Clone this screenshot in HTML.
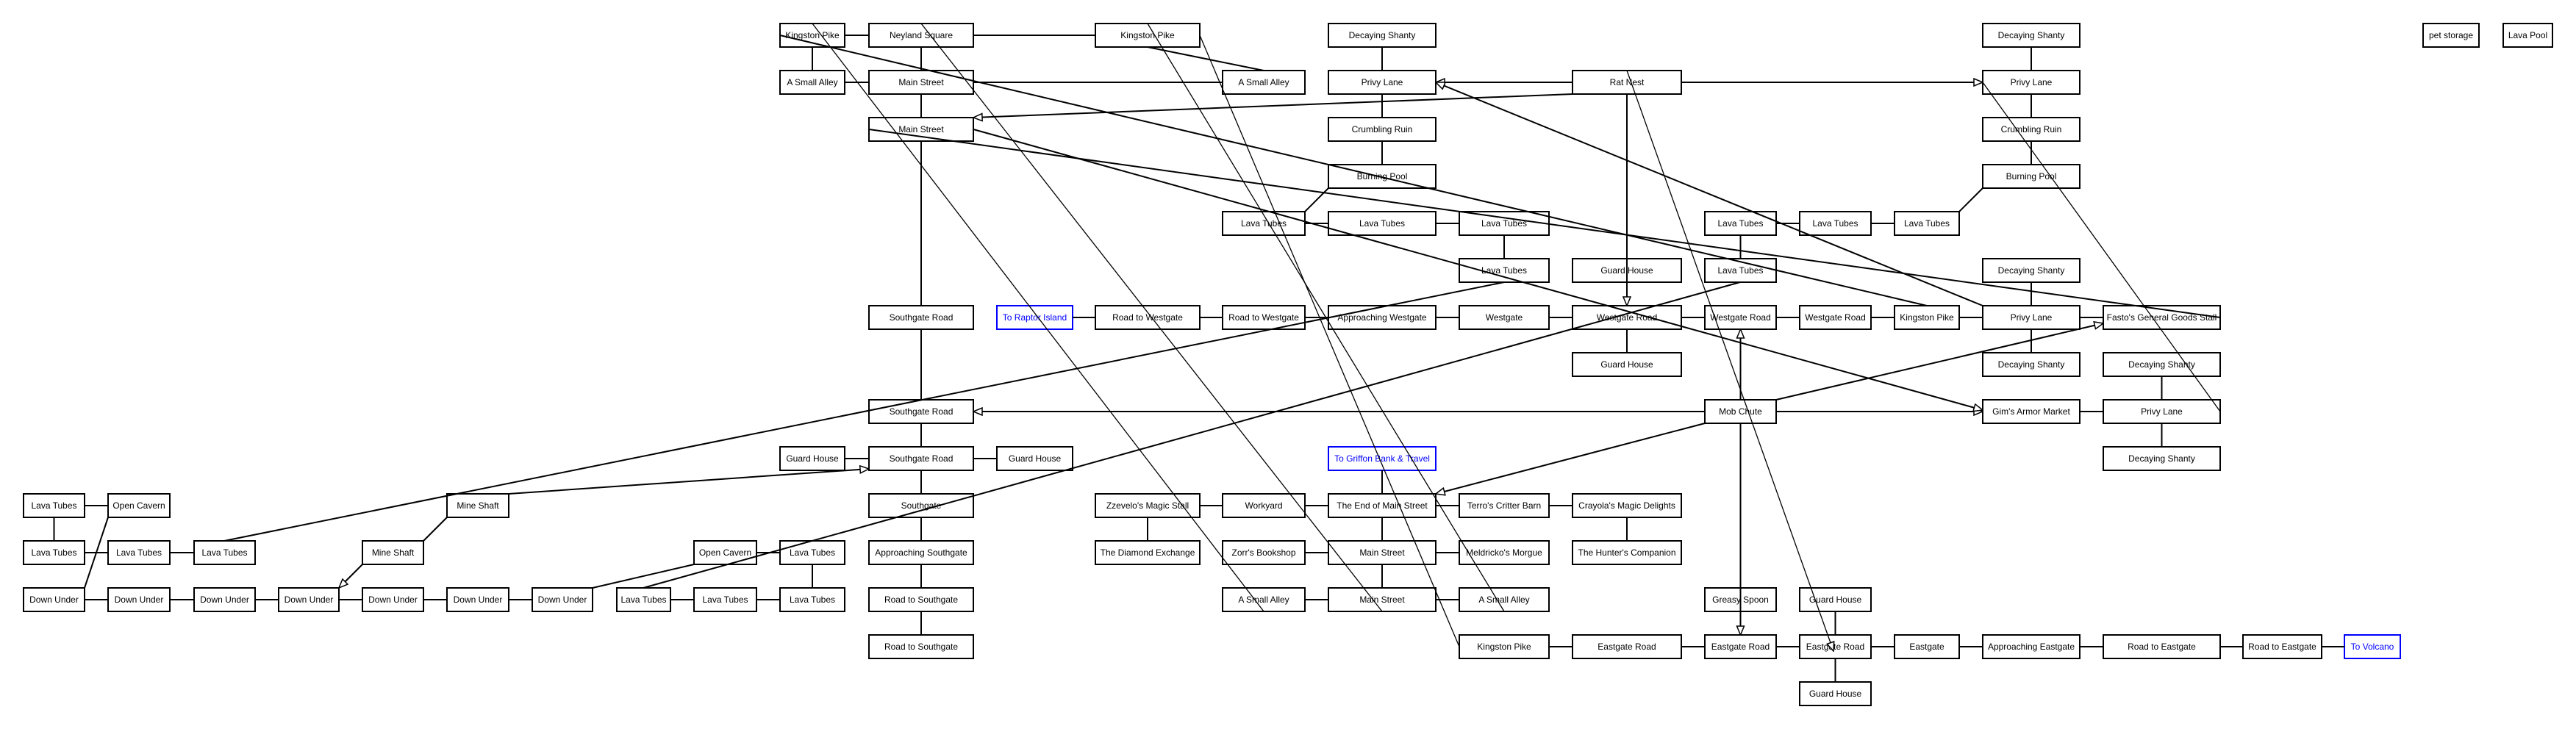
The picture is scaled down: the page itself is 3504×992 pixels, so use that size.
<!DOCTYPE html>
<html><head><meta charset="utf-8"><style>
html,body{margin:0;padding:0;background:#fff;}
svg{display:block;}
text{font-family:"Liberation Sans",sans-serif;font-size:12px;text-anchor:middle;fill:#000;}
rect{fill:#fff;stroke:#000;stroke-width:2;}
.b rect{stroke:#00f;} .b text{fill:#00f;}
line{stroke:#000;stroke-width:2;}
.t{stroke-width:1.3;}
</style></head><body>
<svg width="3504" height="992" viewBox="0 0 3504 992" xmlns="http://www.w3.org/2000/svg">
<defs><marker id="a" markerUnits="userSpaceOnUse" markerWidth="14" markerHeight="12" refX="13" refY="6" orient="auto"><path d="M1,1 L13,6 L1,11 z" fill="#fff" stroke="#000" stroke-width="1.5"/></marker></defs>
<g>
<!-- row0 -->
<rect x="1061" y="32" width="88" height="32"/><text x="1105" y="52">Kingston Pike</text>
<rect x="1182" y="32" width="142" height="32"/><text x="1253" y="52">Neyland Square</text>
<rect x="1490" y="32" width="142" height="32"/><text x="1561" y="52">Kingston Pike</text>
<rect x="1807" y="32" width="146" height="32"/><text x="1880" y="52">Decaying Shanty</text>
<rect x="2697" y="32" width="132" height="32"/><text x="2763" y="52">Decaying Shanty</text>
<rect x="3296" y="32" width="76" height="32"/><text x="3334" y="52">pet storage</text>
<rect x="3405" y="32" width="67" height="32"/><text x="3438.5" y="52">Lava Pool</text>
<!-- row1 -->
<rect x="1061" y="96" width="88" height="32"/><text x="1105" y="116">A Small Alley</text>
<rect x="1182" y="96" width="142" height="32"/><text x="1253" y="116">Main Street</text>
<rect x="1663" y="96" width="112" height="32"/><text x="1719" y="116">A Small Alley</text>
<rect x="1807" y="96" width="146" height="32"/><text x="1880" y="116">Privy Lane</text>
<rect x="2139" y="96" width="148" height="32"/><text x="2213" y="116">Rat Nest</text>
<rect x="2697" y="96" width="132" height="32"/><text x="2763" y="116">Privy Lane</text>
<!-- row2 -->
<rect x="1182" y="160" width="142" height="32"/><text x="1253" y="180">Main Street</text>
<rect x="1807" y="160" width="146" height="32"/><text x="1880" y="180">Crumbling Ruin</text>
<rect x="2697" y="160" width="132" height="32"/><text x="2763" y="180">Crumbling Ruin</text>
<!-- row3 -->
<rect x="1807" y="224" width="146" height="32"/><text x="1880" y="244">Burning Pool</text>
<rect x="2697" y="224" width="132" height="32"/><text x="2763" y="244">Burning Pool</text>
<!-- row4 -->
<rect x="1663" y="288" width="112" height="32"/><text x="1719" y="308">Lava Tubes</text>
<rect x="1807" y="288" width="146" height="32"/><text x="1880" y="308">Lava Tubes</text>
<rect x="1985" y="288" width="122" height="32"/><text x="2046" y="308">Lava Tubes</text>
<rect x="2319" y="288" width="97" height="32"/><text x="2367.5" y="308">Lava Tubes</text>
<rect x="2448" y="288" width="97" height="32"/><text x="2496.5" y="308">Lava Tubes</text>
<rect x="2577" y="288" width="88" height="32"/><text x="2621" y="308">Lava Tubes</text>
<!-- row5 -->
<rect x="1985" y="352" width="122" height="32"/><text x="2046" y="372">Lava Tubes</text>
<rect x="2139" y="352" width="148" height="32"/><text x="2213" y="372">Guard House</text>
<rect x="2319" y="352" width="97" height="32"/><text x="2367.5" y="372">Lava Tubes</text>
<rect x="2697" y="352" width="132" height="32"/><text x="2763" y="372">Decaying Shanty</text>
<!-- row6 -->
<rect x="1182" y="416" width="142" height="32"/><text x="1253" y="436">Southgate Road</text>
<g class="b"><rect x="1356" y="416" width="103" height="32"/><text x="1407.5" y="436">To Raptor Island</text></g>
<rect x="1490" y="416" width="142" height="32"/><text x="1561" y="436">Road to Westgate</text>
<rect x="1663" y="416" width="112" height="32"/><text x="1719" y="436">Road to Westgate</text>
<rect x="1807" y="416" width="146" height="32"/><text x="1880" y="436">Approaching Westgate</text>
<rect x="1985" y="416" width="122" height="32"/><text x="2046" y="436">Westgate</text>
<rect x="2139" y="416" width="148" height="32"/><text x="2213" y="436">Westgate Road</text>
<rect x="2319" y="416" width="97" height="32"/><text x="2367.5" y="436">Westgate Road</text>
<rect x="2448" y="416" width="97" height="32"/><text x="2496.5" y="436">Westgate Road</text>
<rect x="2577" y="416" width="88" height="32"/><text x="2621" y="436">Kingston Pike</text>
<rect x="2697" y="416" width="132" height="32"/><text x="2763" y="436">Privy Lane</text>
<rect x="2861" y="416" width="159" height="32"/><text x="2940.5" y="436">Fasto's General Goods Stall</text>
<!-- row7 -->
<rect x="2139" y="480" width="148" height="32"/><text x="2213" y="500">Guard House</text>
<rect x="2697" y="480" width="132" height="32"/><text x="2763" y="500">Decaying Shanty</text>
<rect x="2861" y="480" width="159" height="32"/><text x="2940.5" y="500">Decaying Shanty</text>
<!-- row8 -->
<rect x="1182" y="544" width="142" height="32"/><text x="1253" y="564">Southgate Road</text>
<rect x="2319" y="544" width="97" height="32"/><text x="2367.5" y="564">Mob Chute</text>
<rect x="2697" y="544" width="132" height="32"/><text x="2763" y="564">Gim's Armor Market</text>
<rect x="2861" y="544" width="159" height="32"/><text x="2940.5" y="564">Privy Lane</text>
<!-- row9 -->
<rect x="1061" y="608" width="88" height="32"/><text x="1105" y="628">Guard House</text>
<rect x="1182" y="608" width="142" height="32"/><text x="1253" y="628">Southgate Road</text>
<rect x="1356" y="608" width="103" height="32"/><text x="1407.5" y="628">Guard House</text>
<g class="b"><rect x="1807" y="608" width="146" height="32"/><text x="1880" y="628">To Griffon Bank &amp; Travel</text></g>
<rect x="2861" y="608" width="159" height="32"/><text x="2940.5" y="628">Decaying Shanty</text>
<!-- row10 -->
<rect x="32" y="672" width="83" height="32"/><text x="73.5" y="692">Lava Tubes</text>
<rect x="147" y="672" width="84" height="32"/><text x="189" y="692">Open Cavern</text>
<rect x="608" y="672" width="84" height="32"/><text x="650" y="692">Mine Shaft</text>
<rect x="1182" y="672" width="142" height="32"/><text x="1253" y="692">Southgate</text>
<rect x="1490" y="672" width="142" height="32"/><text x="1561" y="692">Zzevelo's Magic Stall</text>
<rect x="1663" y="672" width="112" height="32"/><text x="1719" y="692">Workyard</text>
<rect x="1807" y="672" width="146" height="32"/><text x="1880" y="692">The End of Main Street</text>
<rect x="1985" y="672" width="122" height="32"/><text x="2046" y="692">Terro's Critter Barn</text>
<rect x="2139" y="672" width="148" height="32"/><text x="2213" y="692">Crayola's Magic Delights</text>
<!-- row11 -->
<rect x="32" y="736" width="83" height="32"/><text x="73.5" y="756">Lava Tubes</text>
<rect x="147" y="736" width="84" height="32"/><text x="189" y="756">Lava Tubes</text>
<rect x="264" y="736" width="83" height="32"/><text x="305.5" y="756">Lava Tubes</text>
<rect x="493" y="736" width="83" height="32"/><text x="534.5" y="756">Mine Shaft</text>
<rect x="944" y="736" width="85" height="32"/><text x="986.5" y="756">Open Cavern</text>
<rect x="1061" y="736" width="88" height="32"/><text x="1105" y="756">Lava Tubes</text>
<rect x="1182" y="736" width="142" height="32"/><text x="1253" y="756">Approaching Southgate</text>
<rect x="1490" y="736" width="142" height="32"/><text x="1561" y="756">The Diamond Exchange</text>
<rect x="1663" y="736" width="112" height="32"/><text x="1719" y="756">Zorr's Bookshop</text>
<rect x="1807" y="736" width="146" height="32"/><text x="1880" y="756">Main Street</text>
<rect x="1985" y="736" width="122" height="32"/><text x="2046" y="756">Meldricko's Morgue</text>
<rect x="2139" y="736" width="148" height="32"/><text x="2213" y="756">The Hunter's Companion</text>
<!-- row12 -->
<rect x="32" y="800" width="83" height="32"/><text x="73.5" y="820">Down Under</text>
<rect x="147" y="800" width="84" height="32"/><text x="189" y="820">Down Under</text>
<rect x="264" y="800" width="83" height="32"/><text x="305.5" y="820">Down Under</text>
<rect x="379" y="800" width="82" height="32"/><text x="420" y="820">Down Under</text>
<rect x="493" y="800" width="83" height="32"/><text x="534.5" y="820">Down Under</text>
<rect x="608" y="800" width="84" height="32"/><text x="650" y="820">Down Under</text>
<rect x="724" y="800" width="82" height="32"/><text x="765" y="820">Down Under</text>
<rect x="839" y="800" width="73" height="32"/><text x="875.5" y="820">Lava Tubes</text>
<rect x="944" y="800" width="85" height="32"/><text x="986.5" y="820">Lava Tubes</text>
<rect x="1061" y="800" width="88" height="32"/><text x="1105" y="820">Lava Tubes</text>
<rect x="1182" y="800" width="142" height="32"/><text x="1253" y="820">Road to Southgate</text>
<rect x="1663" y="800" width="112" height="32"/><text x="1719" y="820">A Small Alley</text>
<rect x="1807" y="800" width="146" height="32"/><text x="1880" y="820">Main Street</text>
<rect x="1985" y="800" width="122" height="32"/><text x="2046" y="820">A Small Alley</text>
<rect x="2319" y="800" width="97" height="32"/><text x="2367.5" y="820">Greasy Spoon</text>
<rect x="2448" y="800" width="97" height="32"/><text x="2496.5" y="820">Guard House</text>
<!-- row13 -->
<rect x="1182" y="864" width="142" height="32"/><text x="1253" y="884">Road to Southgate</text>
<rect x="1985" y="864" width="122" height="32"/><text x="2046" y="884">Kingston Pike</text>
<rect x="2139" y="864" width="148" height="32"/><text x="2213" y="884">Eastgate Road</text>
<rect x="2319" y="864" width="97" height="32"/><text x="2367.5" y="884">Eastgate Road</text>
<rect x="2448" y="864" width="97" height="32"/><text x="2496.5" y="884">Eastgate Road</text>
<rect x="2577" y="864" width="88" height="32"/><text x="2621" y="884">Eastgate</text>
<rect x="2697" y="864" width="132" height="32"/><text x="2763" y="884">Approaching Eastgate</text>
<rect x="2861" y="864" width="159" height="32"/><text x="2940.5" y="884">Road to Eastgate</text>
<rect x="3051" y="864" width="107" height="32"/><text x="3104.5" y="884">Road to Eastgate</text>
<g class="b"><rect x="3189" y="864" width="76" height="32"/><text x="3227" y="884">To Volcano</text></g>
<!-- row14 -->
<rect x="2448" y="928" width="97" height="32"/><text x="2496.5" y="948">Guard House</text>
</g>
<g>
<!-- horizontal -->
<line x1="1149" y1="48" x2="1182" y2="48"/><line x1="1324" y1="48" x2="1490" y2="48"/>
<line x1="1149" y1="112" x2="1182" y2="112"/><line x1="1324" y1="112" x2="1663" y2="112"/>
<line x1="2139" y1="112" x2="1953" y2="112" marker-end="url(#a)"/>
<line x1="2287" y1="112" x2="2697" y2="112" marker-end="url(#a)"/>
<line x1="1775" y1="304" x2="1807" y2="304"/><line x1="1953" y1="304" x2="1985" y2="304"/>
<line x1="2416" y1="304" x2="2448" y2="304"/><line x1="2545" y1="304" x2="2577" y2="304"/>
<line x1="1459" y1="432" x2="1490" y2="432"/><line x1="1632" y1="432" x2="1663" y2="432"/>
<line x1="1775" y1="432" x2="1807" y2="432"/><line x1="1953" y1="432" x2="1985" y2="432"/>
<line x1="2107" y1="432" x2="2139" y2="432"/><line x1="2287" y1="432" x2="2319" y2="432"/>
<line x1="2416" y1="432" x2="2448" y2="432"/><line x1="2545" y1="432" x2="2577" y2="432"/>
<line x1="2665" y1="432" x2="2697" y2="432"/><line x1="2829" y1="432" x2="2861" y2="432"/>
<line x1="2319" y1="560" x2="1324" y2="560" marker-end="url(#a)"/>
<line x1="2416" y1="560" x2="2697" y2="560" marker-end="url(#a)"/>
<line x1="2829" y1="560" x2="2861" y2="560"/>
<line x1="1149" y1="624" x2="1182" y2="624"/><line x1="1324" y1="624" x2="1356" y2="624"/>
<line x1="115" y1="688" x2="147" y2="688"/><line x1="1632" y1="688" x2="1663" y2="688"/>
<line x1="1775" y1="688" x2="1807" y2="688"/><line x1="1953" y1="688" x2="1985" y2="688"/>
<line x1="2107" y1="688" x2="2139" y2="688"/>
<line x1="115" y1="752" x2="147" y2="752"/><line x1="231" y1="752" x2="264" y2="752"/>
<line x1="1029" y1="752" x2="1061" y2="752"/><line x1="1775" y1="752" x2="1807" y2="752"/>
<line x1="1953" y1="752" x2="1985" y2="752"/>
<line x1="115" y1="816" x2="147" y2="816"/><line x1="231" y1="816" x2="264" y2="816"/>
<line x1="347" y1="816" x2="379" y2="816"/><line x1="461" y1="816" x2="493" y2="816"/>
<line x1="576" y1="816" x2="608" y2="816"/><line x1="692" y1="816" x2="724" y2="816"/>
<line x1="912" y1="816" x2="944" y2="816"/><line x1="1029" y1="816" x2="1061" y2="816"/>
<line x1="1775" y1="816" x2="1807" y2="816"/><line x1="1953" y1="816" x2="1985" y2="816"/>
<line x1="2107" y1="880" x2="2139" y2="880"/><line x1="2287" y1="880" x2="2319" y2="880"/>
<line x1="2416" y1="880" x2="2448" y2="880"/><line x1="2545" y1="880" x2="2577" y2="880"/>
<line x1="2665" y1="880" x2="2697" y2="880"/><line x1="2829" y1="880" x2="2861" y2="880"/>
<line x1="3020" y1="880" x2="3051" y2="880"/><line x1="3158" y1="880" x2="3189" y2="880"/>
<!-- vertical -->
<line x1="1105" y1="64" x2="1105" y2="96"/><line x1="1105" y1="768" x2="1105" y2="800"/>
<line x1="1253" y1="64" x2="1253" y2="96"/><line x1="1253" y1="128" x2="1253" y2="160"/>
<line x1="1253" y1="192" x2="1253" y2="416"/><line x1="1253" y1="448" x2="1253" y2="544"/>
<line x1="1253" y1="576" x2="1253" y2="608"/><line x1="1253" y1="640" x2="1253" y2="672"/>
<line x1="1253" y1="704" x2="1253" y2="736"/><line x1="1253" y1="768" x2="1253" y2="800"/>
<line x1="1253" y1="832" x2="1253" y2="864"/>
<line x1="1880" y1="64" x2="1880" y2="96"/><line x1="1880" y1="128" x2="1880" y2="160"/>
<line x1="1880" y1="192" x2="1880" y2="224"/><line x1="1880" y1="640" x2="1880" y2="672"/>
<line x1="1880" y1="704" x2="1880" y2="736"/><line x1="1880" y1="768" x2="1880" y2="800"/>
<line x1="2763" y1="64" x2="2763" y2="96"/><line x1="2763" y1="128" x2="2763" y2="160"/>
<line x1="2763" y1="192" x2="2763" y2="224"/><line x1="2763" y1="384" x2="2763" y2="416"/>
<line x1="2763" y1="448" x2="2763" y2="480"/>
<line x1="2940.5" y1="512" x2="2940.5" y2="544"/><line x1="2940.5" y1="576" x2="2940.5" y2="608"/>
<line x1="2046" y1="320" x2="2046" y2="352"/><line x1="2367.5" y1="320" x2="2367.5" y2="352"/>
<line x1="2213" y1="448" x2="2213" y2="480"/><line x1="2213" y1="704" x2="2213" y2="736"/>
<line x1="73.5" y1="704" x2="73.5" y2="736"/><line x1="1561" y1="704" x2="1561" y2="736"/>
<line x1="2496.5" y1="832" x2="2496.5" y2="864"/><line x1="2496.5" y1="896" x2="2496.5" y2="928"/>
<line x1="2213" y1="128" x2="2213" y2="416" marker-end="url(#a)"/>
<line x1="2367.5" y1="544" x2="2367.5" y2="448" marker-end="url(#a)"/>
<line x1="2367.5" y1="576" x2="2367.5" y2="864" marker-end="url(#a)"/>
<!-- diagonals -->
<line x1="1807" y1="256" x2="1775" y2="288"/>
<line x1="2697" y1="256" x2="2665" y2="288"/>
<line x1="2046" y1="384" x2="305" y2="736"/>
<line x1="2367" y1="384" x2="875" y2="800"/>
<line x1="2416" y1="544" x2="2861" y2="440" marker-end="url(#a)"/>
<line x1="2319" y1="576" x2="1953" y2="672" marker-end="url(#a)"/>
<line x1="1324" y1="176" x2="2697" y2="558" marker-end="url(#a)"/>
<line x1="2697" y1="416" x2="1953" y2="112" marker-end="url(#a)"/>
<line x1="1182" y1="176" x2="3020" y2="432"/>
<line x1="1061" y1="48" x2="2621" y2="416"/>
<line class="t" x1="1105" y1="32" x2="1719" y2="832"/>
<line class="t" x1="1253" y1="32" x2="1880" y2="832"/>
<line class="t" x1="1561" y1="32" x2="2046" y2="832"/>
<line class="t" x1="1632" y1="48" x2="1985" y2="880"/>
<line x1="1561" y1="64" x2="1719" y2="96"/>
<line x1="2139" y1="128" x2="1324" y2="160" marker-end="url(#a)"/>
<line class="t" x1="2213" y1="96" x2="2494" y2="886" marker-end="url(#a)"/>
<line x1="692" y1="672" x2="1182" y2="638" marker-end="url(#a)"/>
<line x1="608" y1="704" x2="576" y2="736"/>
<line x1="493" y1="768" x2="461" y2="800" marker-end="url(#a)"/>
<line x1="147" y1="704" x2="115" y2="800"/>
<line x1="806" y1="800" x2="944" y2="768"/>
<line class="t" x1="2697" y1="112" x2="3020" y2="560"/>
</g>
</svg>
</body></html>
